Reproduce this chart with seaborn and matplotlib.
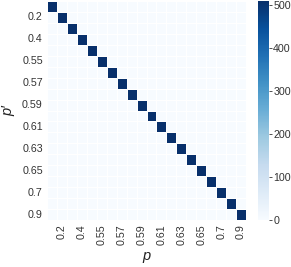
import numpy as np
import pandas as pd
import matplotlib
matplotlib.use("Agg")
import matplotlib.pyplot as plt
import seaborn as sns

# Category labels (p and p')
p_values = ["0.1", "0.2", "0.3", "0.4", "0.5", "0.55", "0.56", "0.57", "0.58", "0.59",
            "0.6", "0.61", "0.62", "0.63", "0.64", "0.65", "0.66", "0.7", "0.8", "0.9"]
# Diagonal counts (p' == p)
diag_counts = [509, 509, 509, 509, 509, 509, 509, 509, 509, 509,
               509, 509, 509, 509, 509, 509, 509, 509, 509, 509]
# Shown tick labels (every other category)
shown_ticks = ["0.2", "0.4", "0.55", "0.57", "0.59", "0.61", "0.63", "0.65", "0.7", "0.9"]
cbar_ticks = [0, 100, 200, 300, 400, 500]

n = len(p_values)
mat = np.zeros((n, n))
for i, v in enumerate(diag_counts):
    mat[i, i] = v
df = pd.DataFrame(mat, index=p_values, columns=p_values)

sns.set_theme(style="white")
plt.rcParams['font.family'] = ['Liberation Sans', 'DejaVu Sans']

W, H = 291, 267
fig = plt.figure(figsize=(W / 100, H / 100), dpi=100)
ax = fig.add_axes([47 / W, 1 - 220 / H, 199 / W, 219 / H])
cax = fig.add_axes([258 / W, 1 - 220 / H, 11 / W, 219 / H])

sns.heatmap(df, ax=ax, cbar_ax=cax, cmap="Blues", vmin=0,
            linewidths=0.6, linecolor="white", square=False,
            cbar_kws={"ticks": cbar_ticks})

idx = [p_values.index(t) + 0.5 for t in shown_ticks]
ax.set_xticks(idx)
ax.set_xticklabels(shown_ticks, rotation=90, fontsize=7.7, color="#333333")
ax.set_yticks(idx)
ax.set_yticklabels(shown_ticks, rotation=0, fontsize=7.7, color="#333333")
ax.tick_params(length=0, pad=3)

ax.set_xlabel("p", fontsize=10.5, style="italic", color="#222222")
ax.set_ylabel("p′", fontsize=10.5, style="italic", color="#222222")
ax.xaxis.set_label_coords(0.5, (220 - 249) / 219)
ax.yaxis.set_label_coords((15 - 47) / 199, 0.5)

cax.tick_params(labelsize=7.7, length=2, width=0.6, colors="#333333", pad=1)
for sp in cax.spines.values():
    sp.set_visible(False)

fig.savefig("out.png", dpi=100)
